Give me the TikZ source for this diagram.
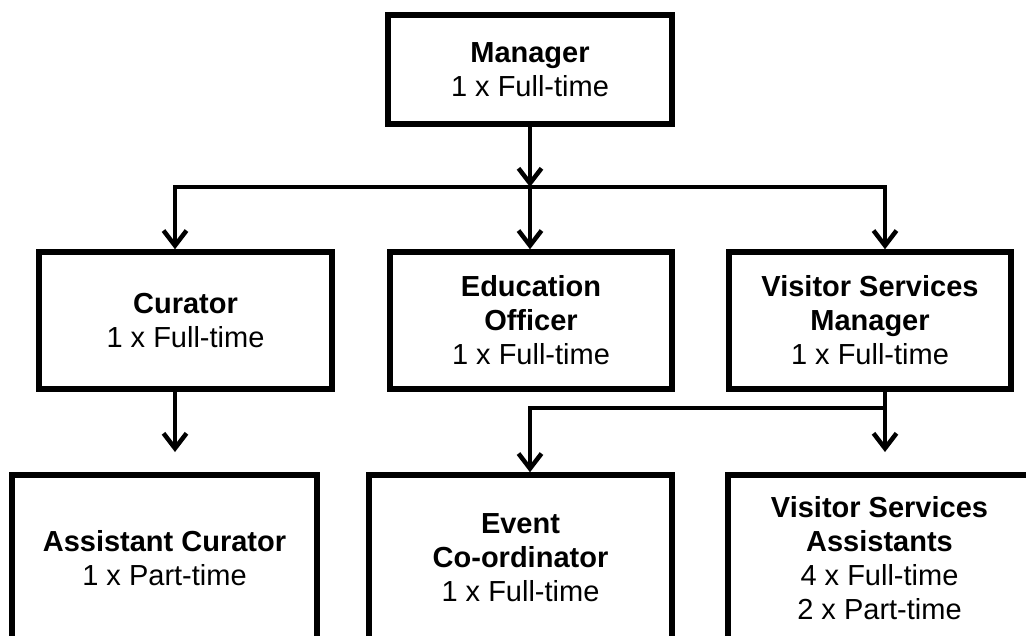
\documentclass[tikz,border=0pt]{standalone}
\usepackage{fontspec}
\setmainfont{Liberation Sans}
\usetikzlibrary{arrows.meta}
\begin{document}
\begin{tikzpicture}[x=1pt,y=-1pt,
  box/.style={draw=black, line width=5.5pt, fill=white, inner sep=0pt, align=center,
    font=\fontsize{29}{34}\selectfont},
  conn/.style={draw=black, line width=4.5pt},
  arr/.style={conn, -{Straight Barb[length=15pt,width=23pt,line width=4.5pt]}}]
\useasboundingbox (0,0) rectangle (1026,635);
\fill[white] (0,0) rectangle (1026,635);
\clip (0,0) rectangle (1026,635);
% top level
\node[box, minimum width=284pt, minimum height=109pt] (man) at (530,69.5) {\textbf{Manager}\\1 x Full-time};
% second level
\node[box, minimum width=293pt, minimum height=137pt] (cur) at (185.5,320.5) {\textbf{Curator}\\1 x Full-time};
\node[box, minimum width=282pt, minimum height=137pt] (edu) at (531,320.5) {\textbf{Education}\\\textbf{Officer}\\1 x Full-time};
\node[box, minimum width=282pt, minimum height=137pt] (vsm) at (870,320.5) {\textbf{Visitor Services}\\\textbf{Manager}\\1 x Full-time};
% third level
\node[box, minimum width=305pt, minimum height=166pt] (ac) at (164.5,558) {\textbf{Assistant Curator}\\1 x Part-time};
\node[box, minimum width=303pt, minimum height=166pt] (ev) at (520.5,558) {\textbf{Event}\\\textbf{Co-ordinator}\\1 x Full-time};
\node[box, minimum width=303pt, minimum height=166pt] (vsa) at (879.5,558) {\textbf{Visitor Services}\\\textbf{Assistants}\\4 x Full-time\\2 x Part-time};
% junction coordinates
\coordinate (j0) at (530,187);
\coordinate (jc) at (175,187);
\coordinate (jv) at (885,187);
\coordinate (ct) at (175,452);
\coordinate (vt) at (885,452);
\coordinate (k1) at (885,408);
\coordinate (k0) at (530,408);
% connectors
\draw[arr] (man.south) -- (j0);
\draw[arr] (j0) -- (jc) -- (jc |- cur.north);
\draw[arr] (j0) -- (jv) -- (jv |- vsm.north);
\draw[arr] (j0) -- (j0 |- edu.north);
\draw[arr] (jc |- cur.south) -- (ct);
\draw[arr] (jv |- vsm.south) -- (vt);
\draw[arr] (k1) -- (k0) -- (k0 |- ev.north);
\end{tikzpicture}
\end{document}
